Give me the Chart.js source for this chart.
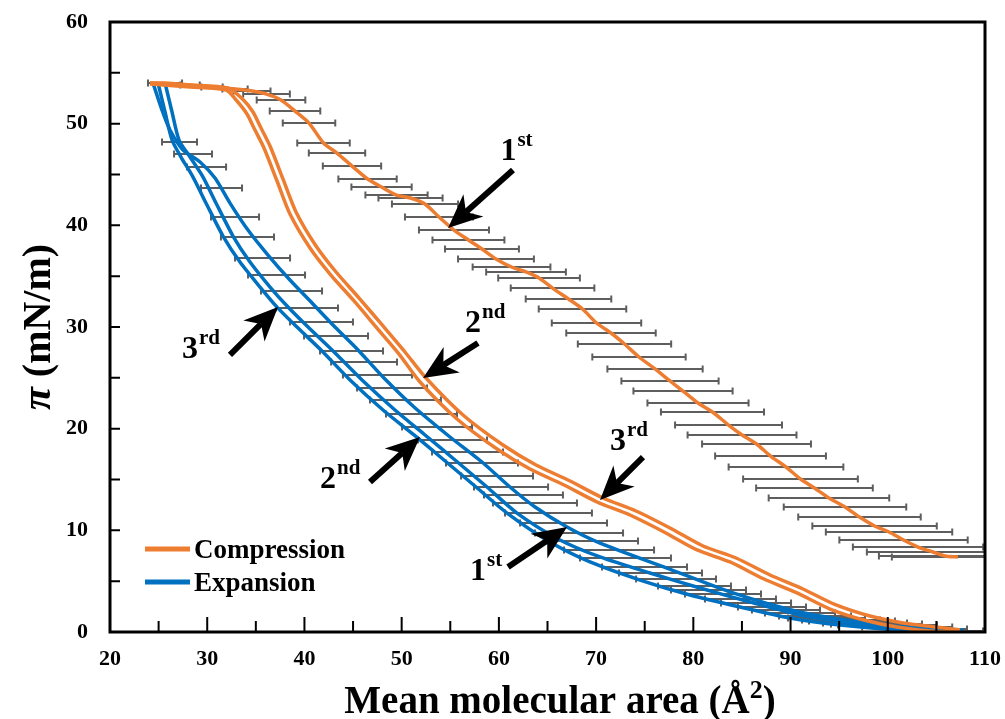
<!DOCTYPE html>
<html>
<head>
<meta charset="utf-8">
<script src="https://cdn.jsdelivr.net/npm/chart.js@4.4.1/dist/chart.umd.min.js"></script>
<style>
  html, body { margin: 0; background: #fff; }
</style>
</head>
<body>
<canvas id="chart" width="1005" height="719"></canvas>
<script>
// Compression isotherms (1st run carries the error bars)
const comp1X = [24.11, 25.66, 28.23, 30.49, 32.86, 34.61, 36.10, 37.59, 39.03, 40.47, 41.96, 43.35, 44.89, 46.49, 47.93, 49.47, 50.91, 52.40, 53.84, 55.38, 56.87, 58.26, 59.70, 61.30, 62.79, 64.13, 65.52, 67.16, 68.60, 70.04, 71.53, 72.92, 74.41, 76.06, 77.60, 78.94, 80.48, 81.97, 83.62, 85.01, 86.50, 87.94, 89.53, 91.02, 92.46, 93.95, 95.60, 97.09, 98.64, 100.13, 101.62, 103.11, 104.65, 105.89, 107.22];
const comp1Y = [54.00, 54.00, 53.80, 53.61, 53.41, 53.21, 52.91, 52.33, 51.24, 50.06, 48.10, 47.11, 45.83, 44.56, 43.77, 42.98, 42.69, 42.10, 40.82, 39.54, 38.56, 37.67, 36.69, 35.90, 35.41, 34.82, 33.83, 32.75, 31.77, 30.39, 29.41, 28.33, 27.05, 25.87, 24.69, 23.70, 22.52, 21.64, 20.36, 19.38, 18.49, 17.31, 16.23, 15.05, 14.16, 13.18, 12.29, 11.31, 10.43, 9.84, 9.05, 8.36, 7.87, 7.48, 7.38];
const comp1Err = [null, 1.75, 1.0, 1.1, 1.3, 1.9, 2.4, 2.5, 2.6, 2.7, 2.7, 2.9, 3.0, 3.0, 3.1, 3.2, 3.3, 3.4, 3.5, 3.6, 3.7, 3.8, 3.9, 4.0, 4.1, 4.2, 4.3, 4.4, 4.5, 4.6, 4.6, 4.8, 4.8, 4.9, 5.0, 5.1, 5.2, 5.3, 5.5, 5.6, 5.6, 5.7, 5.9, 5.9, 6.0, 6.2, 6.3, 6.3, 6.4, 6.5, 6.6, 6.7, 6.8, 6.8, 6.8];

const comp2X = [24.11, 28.23, 32.14, 33.68, 34.71, 35.43, 36.46, 37.79, 39.13, 41.19, 43.25, 45.71, 48.08, 50.34, 52.50, 56.31, 60.42, 63.82, 67.32, 70.71, 74.10, 77.60, 81.00, 84.39, 87.89, 91.28, 94.68, 98.17, 101.57, 104.96, 107.43];
const comp2Y = [54.00, 53.80, 53.51, 52.38, 51.15, 49.77, 47.80, 44.56, 41.31, 37.97, 35.41, 32.75, 30.10, 27.54, 24.98, 21.34, 18.39, 16.43, 14.85, 13.18, 11.90, 10.23, 8.46, 7.28, 5.61, 4.23, 2.66, 1.57, 0.89, 0.49, 0.20];
const comp3X = [24.11, 28.23, 31.93, 33.06, 34.09, 34.81, 35.84, 37.18, 38.51, 40.57, 42.63, 45.10, 47.46, 49.73, 51.89, 55.69, 59.81, 63.20, 66.70, 70.09, 73.49, 76.98, 80.38, 83.77, 87.27, 90.66, 94.06, 97.56, 100.95, 104.35, 107.43];
const comp3Y = [53.90, 53.61, 53.31, 52.23, 50.95, 49.57, 47.61, 44.36, 41.11, 37.77, 35.21, 32.56, 29.90, 27.34, 24.59, 20.95, 18.00, 16.03, 14.46, 12.79, 11.51, 9.84, 8.07, 6.89, 5.21, 3.84, 2.26, 1.18, 0.49, 0.10, 0.00];

// Expansion isotherms
const exp1X = [24.42, 25.35, 26.17, 27.51, 29.26, 30.80, 32.34, 34.19, 36.25, 38.51, 40.78, 43.14, 45.51, 48.18, 51.27, 54.97, 58.26, 61.14, 63.72, 67.01, 70.40, 77.29, 84.08, 90.97, 99.20, 107.74];
const exp1Y = [54.00, 51.34, 49.38, 47.41, 46.23, 44.65, 42.19, 39.54, 37.08, 34.62, 32.36, 30.00, 27.74, 24.98, 22.13, 19.18, 16.72, 14.26, 12.29, 10.33, 8.75, 6.29, 3.84, 1.97, 0.69, 0.20];
const exp2X = [25.66, 26.38, 27.10, 28.23, 29.57, 30.90, 32.65, 34.40, 36.46, 38.31, 40.37, 42.84, 45.92, 49.31, 52.40, 55.49, 58.78, 61.86, 66.29, 70.40, 75.54, 80.69, 85.83, 90.97, 96.12, 101.26, 107.43];
const exp2Y = [54.00, 51.15, 48.39, 46.72, 44.75, 42.20, 38.95, 36.39, 33.93, 31.96, 29.99, 27.74, 24.79, 21.84, 19.38, 16.92, 14.26, 11.70, 9.05, 7.38, 5.80, 4.33, 2.95, 1.67, 0.89, 0.39, 0.10];
const exp3X = [24.94, 25.66, 26.38, 27.30, 28.54, 29.87, 31.62, 33.37, 35.43, 37.18, 39.23, 41.70, 44.69, 48.08, 51.27, 54.35, 57.65, 60.84, 65.26, 69.37, 74.52, 79.66, 84.80, 89.94, 95.09, 101.26, 107.43];
const exp3Y = [54.00, 51.15, 48.39, 46.72, 44.75, 42.20, 38.95, 36.39, 33.93, 31.96, 29.99, 27.74, 24.79, 21.84, 19.38, 16.92, 14.26, 11.70, 8.85, 6.89, 5.11, 3.64, 2.46, 1.38, 0.69, 0.20, 0.00];

// Expansion mean with horizontal error bars
const expBarX = [27.15, 28.54, 29.93, 31.47, 32.86, 34.14, 35.69, 37.13, 38.67, 40.26, 41.75, 43.25, 44.84, 46.13, 47.51, 49.01, 50.39, 52.04, 53.64, 55.23, 56.77, 58.26, 59.81, 61.25, 62.53, 63.71, 65.10, 66.65, 68.24, 69.58, 71.33, 73.02, 74.98, 76.62, 78.22, 80.12, 81.56, 83.05, 84.85, 86.45, 88.09, 89.53, 90.97, 92.52, 93.70, 95.19, 96.32, 97.66, 98.84, 99.97, 102.0, 103.98, 106.97];
const expBarY = [48.20, 47.01, 45.74, 43.67, 40.82, 38.85, 36.79, 35.11, 33.54, 31.87, 30.49, 29.11, 27.64, 26.56, 25.28, 24.00, 22.82, 21.44, 20.16, 18.88, 17.70, 16.62, 15.34, 14.26, 13.48, 12.69, 11.70, 10.72, 9.74, 8.95, 8.07, 7.28, 6.39, 5.80, 5.21, 4.52, 4.13, 3.74, 3.25, 2.85, 2.46, 2.16, 1.87, 1.57, 1.38, 1.18, 1.08, 0.89, 0.79, 0.69, 0.49, 0.30, 0.10];
const expBarErr = [1.80, 1.95, 2.01, 2.11, 2.47, 2.73, 2.83, 2.93, 3.14, 3.19, 3.24, 3.29, 3.24, 3.39, 3.55, 3.60, 3.65, 3.65, 3.60, 3.55, 3.65, 3.70, 3.70, 3.81, 4.06, 4.32, 4.47, 4.47, 4.53, 4.73, 4.63, 4.68, 4.37, 4.27, 4.11, 3.75, 3.86, 3.91, 3.65, 3.60, 3.50, 3.50, 3.60, 3.70, 3.96, 4.01, 4.42, 4.32, 4.68, 5.09, 4.63, 4.17, 2.83];

// Cycle labels: arrow tip, arrow tail, digit anchor (data units)
const cycleNum = ['1', '2', '3', '1', '2', '3'];
const cycleSup = ['st', 'nd', 'rd', 'st', 'nd', 'rd'];
const arrowTip = [[54.77, 39.74], [52.20, 24.98], [70.40, 12.98], [67.01, 10.33], [51.89, 19.18], [37.28, 31.97]];
const arrowTail = [[61.45, 45.44], [57.85, 28.43], [74.82, 17.21], [60.94, 6.39], [46.74, 14.75], [32.34, 27.25]];
const labelAt = [[60.16, 46.43], [56.52, 29.51], [71.43, 17.90], [57.03, 5.11], [41.60, 14.16], [27.41, 26.95]];

const ORANGE = '#ED7D31';
const BLUE = '#0070C0';
const SERIF = "'Liberation Serif', 'Times New Roman', serif";

const pts = (xs, ys) => xs.map((x, i) => ({ x: x, y: ys[i] }));

function curve(xs, ys, color) {
  return {
    data: pts(xs, ys),
    showLine: true,
    borderColor: color,
    borderWidth: 3.5,
    pointRadius: 0,
    tension: 0.25,
    fill: false
  };
}

// horizontal error bars, drawn under the lines
const errorBars = {
  id: 'errorBars',
  beforeDatasetsDraw(chart) {
    const { ctx, chartArea: a, scales: { x, y } } = chart;
    ctx.save();
    ctx.beginPath();
    ctx.rect(a.left, a.top, a.width, a.height);
    ctx.clip();
    ctx.strokeStyle = '#5e5e5e';
    ctx.lineWidth = 2;
    chart.data.datasets.forEach(ds => {
      if (!ds.xErr) return;
      ds.data.forEach((p, i) => {
        const e = ds.xErr[i];
        if (e == null) return;
        const py = y.getPixelForValue(p.y);
        const x0 = x.getPixelForValue(p.x - e);
        const x1 = x.getPixelForValue(p.x + e);
        ctx.beginPath();
        ctx.moveTo(x0, py); ctx.lineTo(x1, py);
        ctx.moveTo(x0, py - 3.5); ctx.lineTo(x0, py + 3.5);
        ctx.moveTo(x1, py - 3.5); ctx.lineTo(x1, py + 3.5);
        ctx.stroke();
      });
    });
    ctx.restore();
  }
};

function drawArrow(ctx, x0, y0, x1, y1) {
  const ang = Math.atan2(y1 - y0, x1 - x0);
  const c = Math.cos(ang), s = Math.sin(ang);
  const len = 34, w = 15, notch = 24;
  ctx.lineWidth = 6;
  ctx.beginPath();
  ctx.moveTo(x0, y0);
  ctx.lineTo(x1 - notch * c, y1 - notch * s);
  ctx.stroke();
  const bx = x1 - len * c, by = y1 - len * s;
  ctx.beginPath();
  ctx.moveTo(x1, y1);
  ctx.lineTo(bx + w * s, by - w * c);
  ctx.lineTo(x1 - notch * c, y1 - notch * s);
  ctx.lineTo(bx - w * s, by + w * c);
  ctx.closePath();
  ctx.fill();
}

const decorations = {
  id: 'decorations',
  afterDraw(chart) {
    const { ctx, chartArea: a, scales: { x, y } } = chart;
    ctx.save();

    // frame
    ctx.strokeStyle = '#000';
    ctx.lineWidth = 3;
    ctx.strokeRect(a.left, a.top, a.right - a.left, a.bottom - a.top);

    // inward ticks
    ctx.lineWidth = 2;
    ctx.beginPath();
    for (let v = 25; v < 110; v += 5) {
      const px = x.getPixelForValue(v);
      const len = v % 10 === 0 ? 15 : 11;
      ctx.moveTo(px, a.bottom); ctx.lineTo(px, a.bottom - len);
    }
    for (let v = 5; v < 60; v += 5) {
      const py = y.getPixelForValue(v);
      ctx.moveTo(a.left, py); ctx.lineTo(a.left + 10, py);
    }
    ctx.stroke();

    ctx.fillStyle = '#000';
    ctx.textBaseline = 'alphabetic';

    // x title
    const main = 'Mean molecular area (Å';
    ctx.font = 'bold 39px ' + SERIF;
    const wMain = ctx.measureText(main).width;
    const wPar = ctx.measureText(')').width;
    ctx.font = 'bold 26px ' + SERIF;
    const wSup = ctx.measureText('2').width;
    let tx = 560 - (wMain + wSup + wPar) / 2;
    ctx.font = 'bold 39px ' + SERIF;
    ctx.textAlign = 'left';
    ctx.fillText(main, tx, 713);
    ctx.font = 'bold 26px ' + SERIF;
    ctx.fillText('2', tx + wMain, 698);
    ctx.font = 'bold 39px ' + SERIF;
    ctx.fillText(')', tx + wMain + wSup, 713);

    // y title
    ctx.save();
    ctx.translate(50, (a.top + a.bottom) / 2);
    ctx.rotate(-Math.PI / 2);
    ctx.font = 'italic bold 42px ' + SERIF;
    const wPi = ctx.measureText('π').width;
    ctx.font = 'bold 40px ' + SERIF;
    const wRest = ctx.measureText(' (mN/m)').width;
    const sx = -(wPi + wRest) / 2;
    ctx.font = 'italic bold 42px ' + SERIF;
    ctx.fillText('π', sx, 0);
    ctx.font = 'bold 40px ' + SERIF;
    ctx.fillText(' (mN/m)', sx + wPi, 0);
    ctx.restore();

    // legend
    const legend = [['Compression', ORANGE, 549], ['Expansion', BLUE, 582]];
    legend.forEach(([txt, col, ly]) => {
      ctx.strokeStyle = col;
      ctx.lineWidth = 5;
      ctx.beginPath();
      ctx.moveTo(a.left + 35, ly); ctx.lineTo(a.left + 80, ly);
      ctx.stroke();
      ctx.font = 'bold 27px ' + SERIF;
      ctx.fillText(txt, a.left + 84, ly + 9);
    });

    // cycle arrows and labels
    ctx.strokeStyle = '#000';
    ctx.fillStyle = '#000';
    arrowTip.forEach((tip, i) => {
      const t0 = arrowTail[i];
      drawArrow(ctx, x.getPixelForValue(t0[0]), y.getPixelForValue(t0[1]),
        x.getPixelForValue(tip[0]), y.getPixelForValue(tip[1]));
      const lx = x.getPixelForValue(labelAt[i][0]);
      const ly = y.getPixelForValue(labelAt[i][1]);
      ctx.font = 'bold 32px ' + SERIF;
      ctx.fillText(cycleNum[i], lx, ly);
      const wd = ctx.measureText(cycleNum[i]).width;
      ctx.font = 'bold 21px ' + SERIF;
      ctx.fillText(cycleSup[i], lx + wd + 1, ly - 14);
    });

    ctx.restore();
  }
};

const tickFont = { family: SERIF, size: 22, weight: 'bold' };

function noPad(s) {
  s.paddingTop = 0; s.paddingBottom = 0; s.paddingLeft = 0; s.paddingRight = 0;
}

new Chart(document.getElementById('chart'), {
  type: 'scatter',
  data: {
    datasets: [
      { data: pts(expBarX, expBarY), xErr: expBarErr, pointRadius: 0, showLine: false },
      Object.assign(curve(comp1X, comp1Y, ORANGE), { xErr: comp1Err }),
      curve(comp2X, comp2Y, ORANGE),
      curve(comp3X, comp3Y, ORANGE),
      curve(exp1X, exp1Y, BLUE),
      curve(exp2X, exp2Y, BLUE),
      curve(exp3X, exp3Y, BLUE)
    ]
  },
  options: {
    responsive: false,
    animation: false,
    events: [],
    layout: { padding: { top: 22, right: 20, left: 0, bottom: 0 } },
    plugins: { legend: { display: false }, tooltip: { enabled: false } },
    scales: {
      x: {
        type: 'linear', min: 20, max: 110,
        afterFit: s => { s.height = 87; noPad(s); },
        grid: { display: false, drawTicks: false },
        border: { display: false },
        ticks: { stepSize: 10, color: '#000', font: tickFont, padding: 14, maxRotation: 0 }
      },
      y: {
        type: 'linear', min: 0, max: 60,
        afterFit: s => { s.width = 110; noPad(s); },
        grid: { display: false, drawTicks: false },
        border: { display: false },
        ticks: { stepSize: 10, color: '#000', font: tickFont, padding: 22 }
      }
    }
  },
  plugins: [errorBars, decorations]
});
</script>
</body>
</html>
